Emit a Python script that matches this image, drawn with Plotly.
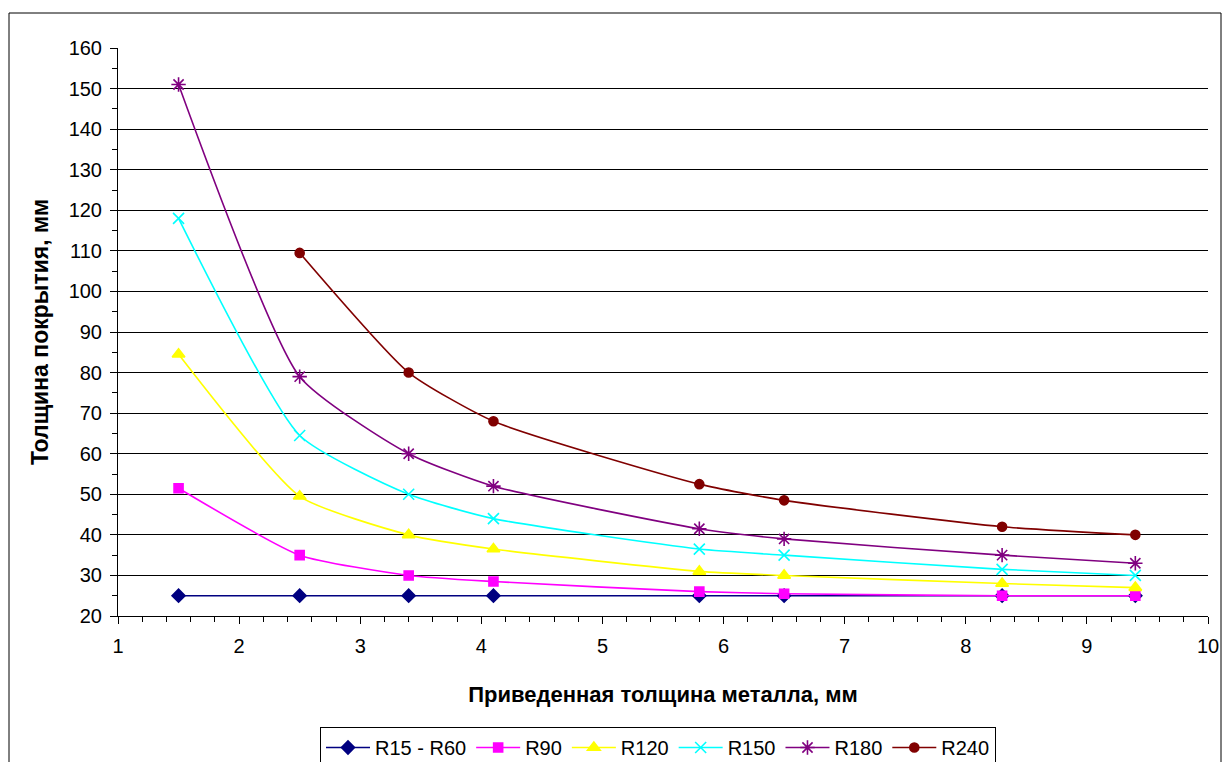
import plotly.graph_objects as go

x_all = [1.5, 2.5, 3.4, 4.1, 5.8, 6.5, 8.3, 9.4]
x_r240 = [2.5, 3.4, 4.1, 5.8, 6.5, 8.3, 9.4]

r15_60 = [25, 25, 25, 25, 25, 25, 25, 25]
r90 = [51.5, 35, 30, 28.5, 26, 25.5, 25, 25]
r120 = [84.5, 49.5, 40, 36.5, 31, 30, 28, 27]
r150 = [118, 64.5, 50, 44, 36.5, 35, 31.5, 30]
r180 = [151, 79, 60, 52, 41.5, 39, 35, 33]
r240 = [109.5, 80, 68, 52.5, 48.5, 42, 40]

series = [
    ("R15 - R60", x_all, r15_60, "#000080", "diamond", 10),
    ("R90", x_all, r90, "#FF00FF", "square", 9),
    ("R120", x_all, r120, "#FFFF00", "triangle-up", 11),
    ("R150", x_all, r150, "#00FFFF", "x-thin", 11),
    ("R180", x_all, r180, "#800080", "asterisk", 12),
    ("R240", x_r240, r240, "#800000", "circle", 9),
]

fig = go.Figure()
for name, xs, ys, color, sym, size in series:
    fig.add_trace(go.Scatter(
        x=xs, y=ys, name=name, mode="lines+markers",
        line=dict(color=color, width=1.6, shape="spline", smoothing=0.55),
        marker=dict(symbol=sym, size=size, color=color,
                    line=dict(color=color, width=1.6)),
    ))

L, R, T, B = 118, 16, 48, 146
W, H = 1224, 762
pw, ph = W - L - R, H - T - B

def px_x(p):
    return (p - L) / pw

def px_y(p):
    return (H - B - p) / ph

fig.update_layout(
    width=W, height=H,
    margin=dict(l=L, r=R, t=T, b=B, autoexpand=False),
    paper_bgcolor="white", plot_bgcolor="white",
    font=dict(family="Liberation Sans, Arial, sans-serif", size=20, color="black"),
    showlegend=True,
    legend=dict(orientation="h", x=px_x(320), xanchor="left",
                y=px_y(727), yanchor="top",
                bordercolor="black", borderwidth=1,
                font=dict(family="Liberation Sans, Arial, sans-serif", size=20),
                itemwidth=44, tracegroupgap=0),
    xaxis=dict(range=[1, 10], dtick=1, tick0=1, showgrid=False, zeroline=False,
               showline=True, linecolor="black", linewidth=1,
               ticks="outside", ticklen=7, tickcolor="black",
               tickfont=dict(size=20), ticklabelstandoff=5,
               minor=dict(dtick=0.2, ticks="outside", ticklen=5, tickcolor="black", showgrid=False),
               title=dict(text="<b>Приведенная толщина металла, мм</b>", font=dict(size=22), standoff=30)),
    yaxis=dict(range=[20, 160], dtick=10, tick0=20, showgrid=True, gridcolor="black", gridwidth=1,
               zeroline=False, showline=True, linecolor="black", linewidth=1,
               ticks="outside", ticklen=7, tickcolor="black",
               tickfont=dict(size=20), ticklabelstandoff=4,
               minor=dict(dtick=5, ticks="outside", ticklen=5, tickcolor="black", showgrid=False),
               title=dict(text="<b>Толщина покрытия, мм</b>", font=dict(size=23), standoff=13)),
    shapes=[
        dict(type="rect", xref="paper", yref="paper",
             x0=px_x(9), x1=px_x(1221), y0=px_y(775), y1=px_y(13),
             line=dict(color="black", width=1), fillcolor="rgba(0,0,0,0)", layer="below"),
    ],
)

fig.write_html("out.html", config={"displayModeBar": False},
               post_script="document.body.style.margin='0';document.body.style.padding='0';document.body.style.overflow='hidden';")
